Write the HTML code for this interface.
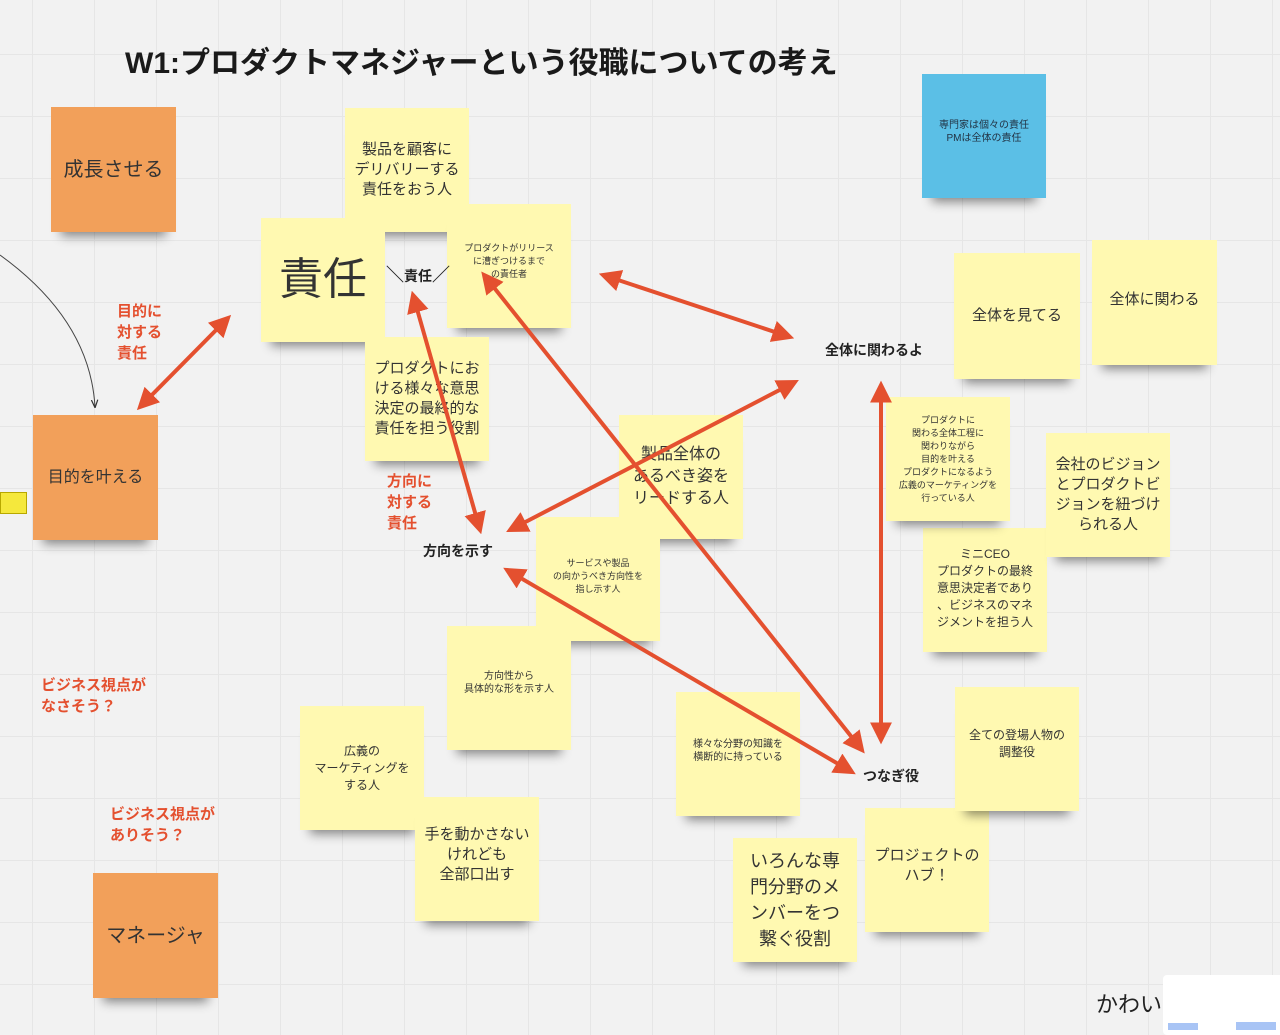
<!DOCTYPE html>
<html><head><meta charset="utf-8"><style>
body{margin:0;width:1280px;height:1030px;overflow:hidden;position:relative;background:#f2f2f2;
background-image:linear-gradient(#e6e6e6 1px,transparent 1px),linear-gradient(90deg,#e6e6e6 1px,transparent 1px);
background-size:62px 62px;background-position:32px 54px;
font-family:"Liberation Sans","Noto Sans CJK JP",sans-serif;color:#222}
.n{position:absolute;width:124px;height:124px;background:#fff9b1;display:flex;align-items:center;justify-content:center;text-align:center;box-shadow:0 14px 10px -10px rgba(0,0,0,.45);font-size:15px;line-height:20px;color:#333}
.o{background:#f2a05a}
.b{background:#5bbfe6}
.s{font-size:9px;line-height:13px}
.t{position:absolute;white-space:nowrap}
.r{color:#e4502f;font-weight:bold;font-size:15px;line-height:21px}
.k{font-weight:bold;font-size:14px}
svg{position:absolute;left:0;top:0}
</style></head><body>
<div class="t" style="left:125px;top:38px;font-size:30px;font-weight:bold;color:#1a1a1a">W1:プロダクトマネジャーという役職についての考え</div>

<div class="n o" style="left:51px;top:107px;width:125px;height:125px;font-size:20px">成長させる</div>
<div class="n" style="left:345px;top:108px">製品を顧客に<br>デリバリーする<br>責任をおう人</div>
<div class="n" style="left:261px;top:218px;font-size:44px;line-height:50px">責任</div>
<div class="n s" style="left:447px;top:204px;align-items:flex-start;padding-top:0"><div style="margin-top:38px">プロダクトがリリース<br>に漕ぎつけるまで<br>の責任者</div></div>
<div class="n" style="left:365px;top:337px">プロダクトにお<br>ける様々な意思<br>決定の最終的な<br>責任を担う役割</div>
<div class="n o" style="left:33px;top:415px;width:125px;height:125px;font-size:16px">目的を叶える</div>
<div style="position:absolute;left:0;top:492px;width:25px;height:20px;background:#f5e83c;border:1px solid #b8a800"></div>
<div class="n" style="left:619px;top:415px;font-size:16px;line-height:22px">製品全体の<br>あるべき姿を<br>リードする人</div>
<div class="n s" style="left:536px;top:517px;align-items:flex-start"><div style="margin-top:40px">サービスや製品<br>の向かうべき方向性を<br>指し示す人</div></div>
<div class="n s" style="left:447px;top:626px;font-size:10px;align-items:flex-start"><div style="margin-top:44px">方向性から<br>具体的な形を示す人</div></div>
<div class="n" style="left:300px;top:706px;font-size:12px;line-height:17px">広義の<br>マーケティングを<br>する人</div>
<div class="n" style="left:415px;top:797px;align-items:flex-start"><div style="margin-top:28px">手を動かさない<br>けれども<br>全部口出す</div></div>
<div class="n s" style="left:676px;top:692px;font-size:10px;align-items:flex-start"><div style="margin-top:46px">様々な分野の知識を<br>横断的に持っている</div></div>
<div class="n" style="left:733px;top:838px;font-size:18px;line-height:26px">いろんな専<br>門分野のメ<br>ンバーをつ<br>繋ぐ役割</div>
<div class="n" style="left:865px;top:808px;align-items:flex-start"><div style="margin-top:38px">プロジェクトの<br>ハブ！</div></div>
<div class="n" style="left:955px;top:687px;font-size:12px;line-height:17px;align-items:flex-start"><div style="margin-top:40px">全ての登場人物の<br>調整役</div></div>
<div class="n" style="left:923px;top:528px;font-size:12px;line-height:17px;align-items:flex-start"><div style="margin-top:18px">ミニCEO<br>プロダクトの最終<br>意思決定者であり<br>、ビジネスのマネ<br>ジメントを担う人</div></div>
<div class="n s" style="left:886px;top:397px"><div>プロダクトに<br>関わる全体工程に<br>関わりながら<br>目的を叶える<br>プロダクトになるよう<br>広義のマーケティングを<br>行っている人</div></div>
<div class="n" style="left:1046px;top:433px;font-size:15px;line-height:20px">会社のビジョン<br>とプロダクトビ<br>ジョンを紐づけ<br>られる人</div>
<div class="n" style="left:954px;top:253px;width:126px;height:126px;font-size:15px">全体を見てる</div>
<div class="n" style="left:1092px;top:240px;width:125px;height:125px;font-size:15px;align-items:flex-start"><div style="margin-top:50px">全体に関わる</div></div>
<div class="n b s" style="left:922px;top:74px;align-items:flex-start;color:#234"><div style="margin-top:45px;font-size:10px">専門家は個々の責任<br>PMは全体の責任</div></div>
<div class="n o" style="left:93px;top:873px;width:125px;height:125px;font-size:20px">マネージャ</div>
<div style="position:absolute;left:1163px;top:975px;width:130px;height:60px;background:#fff;border-radius:4px"></div>
<div style="position:absolute;left:1168px;top:1023px;width:30px;height:7px;background:#a8c4f5"></div>
<div style="position:absolute;left:1236px;top:1022px;width:40px;height:8px;background:#a8c4f5"></div>

<div class="t r" style="left:117px;top:301px">目的に<br>対する<br>責任</div>
<div class="t r" style="left:387px;top:471px">方向に<br>対する<br>責任</div>
<div class="t r" style="left:41px;top:675px">ビジネス視点が<br>なさそう？</div>
<div class="t r" style="left:110px;top:804px">ビジネス視点が<br>ありそう？</div>
<div class="t k" style="left:825px;top:340px">全体に関わるよ</div>
<div class="t k" style="left:423px;top:541px">方向を示す</div>
<div class="t k" style="left:863px;top:766px">つなぎ役</div>
<div class="t k" style="left:386px;top:261px"><span style="font-size:18px">＼</span>責任<span style="font-size:18px">／</span></div>
<div class="t" style="left:1096px;top:987px;font-size:22px">かわい</div>

<svg width="1280" height="1030">
<defs>
<marker id="a" viewBox="0 0 10 10" refX="8" refY="5" markerWidth="5.5" markerHeight="5.5" orient="auto-start-reverse"><path d="M0,0L10,5L0,10z" fill="#e4502f"/></marker>
<marker id="b" viewBox="0 0 10 10" refX="9" refY="5" markerWidth="8" markerHeight="8" orient="auto"><path d="M0,1L10,5L0,9" fill="none" stroke="#333" stroke-width="1.5"/></marker>
</defs>
<path d="M0,255 Q90,320 95,407" fill="none" stroke="#444" stroke-width="1" marker-end="url(#b)"/>
<g stroke="#e4502f" stroke-width="4" marker-start="url(#a)" marker-end="url(#a)">
<line x1="140" y1="407" x2="228" y2="318"/>
<line x1="413" y1="295" x2="480" y2="530"/>
<line x1="484" y1="275" x2="862" y2="750"/>
<line x1="603" y1="275" x2="790" y2="337"/>
<line x1="795" y1="382" x2="510" y2="530"/>
<line x1="881" y1="385" x2="881" y2="740"/>
<line x1="507" y1="570" x2="852" y2="772"/>
</g>
</svg>
</body></html>
